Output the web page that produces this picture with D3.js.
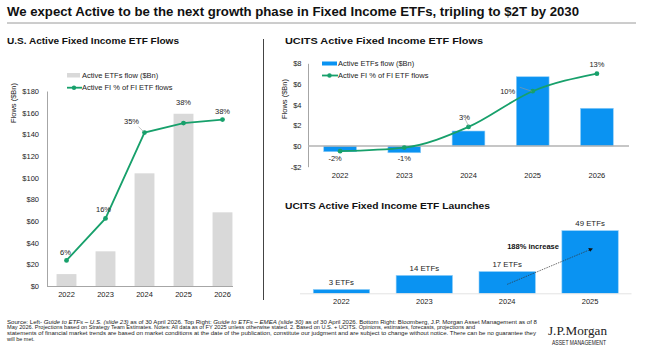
<!DOCTYPE html>
<html><head><meta charset="utf-8">
<script src="https://cdn.jsdelivr.net/npm/d3@7"></script>
<style>
html,body{margin:0;padding:0;background:#fff;}
svg{display:block;font-family:"Liberation Sans",Arial,sans-serif;}
</style></head>
<body><svg id="c" width="646" height="352"></svg>
<script>
// ---------- data ----------
const usYears = ["2022","2023","2024","2025","2026"];
const usFlows = [11, 32, 104, 159, 68];            // $Bn
const usPct = [5.9, 15.6, 35.4, 37.6, 38.4];       // Active FI % of FI ETF flows
const usYTicks = [0,20,40,60,80,100,120,140,160,180];

const ucitsYears = ["2022","2023","2024","2025","2026"];
const ucitsFlows = [-0.55, -0.65, 1.45, 6.7, 3.65]; // $Bn
const ucitsPct = [-2.0, -1.3, 2.7, 9.6, 13.0];
const ucitsYTicks = [-2,0,2,4,6,8];

const launchYears = ["2022","2023","2024","2025"];
const launches = [3, 14, 17, 49];
const launchArrow = [{year:"2024", v:7}, {year:"2025", v:35}];

const GREEN = "#17a06b", BLUE = "#0a93f2", GRAY_BAR = "#d9d9d9", AXIS = "#a6a6a6";

const svg = d3.select("#c");
const fmtD = v => (v<0?"-$":"$") + Math.abs(v);
const fmtP = v => Math.round(v) + "%";

// ---------- header ----------
svg.append("text").attr("x",7).attr("y",16).attr("font-size",12.5).attr("font-weight","bold")
  .attr("fill","#111").attr("textLength",572).attr("lengthAdjust","spacingAndGlyphs")
  .text("We expect Active to be the next growth phase in Fixed Income ETFs, tripling to $2T by 2030");
svg.append("line").attr("x1",7).attr("x2",636).attr("y1",23).attr("y2",23).attr("stroke","#9a9a9a").attr("stroke-width",1);
svg.append("line").attr("x1",263.5).attr("x2",263.5).attr("y1",39).attr("y2",300).attr("stroke","#444").attr("stroke-width",1);

function subtitle(x,y,w,t){
  svg.append("text").attr("x",x).attr("y",y).attr("font-size",9).attr("font-weight","bold").attr("fill","#111")
    .attr("textLength",w).attr("lengthAdjust","spacingAndGlyphs").text(t);
}
subtitle(7,44,172,"U.S. Active Fixed Income ETF Flows");
subtitle(285,44,198,"UCITS Active Fixed Income ETF Flows");
subtitle(285,208.5,205,"UCITS Active Fixed Income ETF Launches");

// ---------- left chart ----------
{
  const x = d3.scaleBand().domain(usYears).range([47,242]).paddingInner(0.49).paddingOuter(0.245);
  const y = d3.scaleLinear().domain([0,180]).range([286,91]);
  const y2 = d3.scaleLinear().domain([0,45]).range([286,91]);
  const g = svg.append("g");
  const ya = g.append("g").attr("transform","translate(47,0)")
    .call(d3.axisLeft(y).tickValues(usYTicks).tickFormat(fmtD).tickSize(0).tickPadding(8));
  ya.select(".domain").attr("stroke",AXIS);
  ya.selectAll("text").attr("font-size",7.5).attr("fill","#222").attr("font-family","Liberation Sans, Arial");
  g.selectAll("rect.b").data(usFlows).join("rect")
    .attr("x",(d,i)=>x(usYears[i])).attr("width",x.bandwidth())
    .attr("y",d=>y(d)).attr("height",d=>y(0)-y(d)).attr("fill",GRAY_BAR);
  const xa = g.append("g").attr("transform","translate(0,286)")
    .call(d3.axisBottom(x).tickSize(0).tickPadding(6));
  xa.select(".domain").remove();
  g.append("line").attr("x1",47).attr("x2",x.range()[1]-9).attr("y1",286.5).attr("y2",286.5).attr("stroke",AXIS);
  xa.selectAll("text").attr("font-size",7.5).attr("fill","#222").attr("font-family","Liberation Sans, Arial");
  const pts = usPct.map((p,i)=>[x(usYears[i])+x.bandwidth()/2, y2(p)]);
  g.append("path").attr("d",d3.line()(pts)).attr("fill","none").attr("stroke",GREEN).attr("stroke-width",1.8);
  g.selectAll("circle.p").data(pts).join("circle").attr("cx",d=>d[0]).attr("cy",d=>d[1]).attr("r",2.4).attr("fill",GREEN);
  const off = [[-1,-8],[-2,-9.5],[-13,-11],[0,-21],[0,-8]];
  g.append("line").attr("x1",pts[2][0]-6).attr("y1",pts[2][1]-6).attr("x2",pts[2][0]-1).attr("y2",pts[2][1]-1).attr("stroke","#999").attr("stroke-width",0.6);
  g.selectAll("text.pl").data(usPct).join("text")
    .attr("x",(d,i)=>pts[i][0]+off[i][0]).attr("y",(d,i)=>pts[i][1]+off[i][1]).attr("dy","0.35em")
    .attr("text-anchor","middle").attr("font-size",7.5).attr("fill","#222").text(fmtP);
  g.append("text").attr("transform","translate(13.5,103) rotate(-90)").attr("text-anchor","middle").attr("dy","0.35em")
    .attr("font-size",7.5).attr("fill","#222").text("Flows ($Bn)");
  g.append("rect").attr("x",67).attr("y",73).attr("width",13).attr("height",4.5).attr("fill",GRAY_BAR);
  g.append("text").attr("x",82).attr("y",75.3).attr("dy","0.35em").attr("font-size",7.5).attr("fill","#222").text("Active ETFs flow ($Bn)");
  g.append("line").attr("x1",67).attr("x2",82).attr("y1",87.7).attr("y2",87.7).attr("stroke",GREEN).attr("stroke-width",1.8);
  g.append("circle").attr("cx",74).attr("cy",87.7).attr("r",2.2).attr("fill",GREEN);
  g.append("text").attr("x",82).attr("y",87.7).attr("dy","0.35em").attr("font-size",7.5).attr("fill","#222").text("Active FI % of FI ETF flows");
}

// ---------- right top chart ----------
{
  const x = d3.scaleBand().domain(ucitsYears).range([308,629]).paddingInner(0.49).paddingOuter(0.245);
  const y = d3.scaleLinear().domain([-2,8]).range([166.7,63.3]);
  const y2 = d3.scaleLinear().domain([-5,15]).range([166.7,63.3]);
  const g = svg.append("g");
  const ya = g.append("g").attr("transform","translate(308,0)")
    .call(d3.axisLeft(y).tickValues(ucitsYTicks).tickFormat(fmtD).tickSize(0).tickPadding(6.5));
  ya.select(".domain").attr("stroke",AXIS);
  ya.selectAll("text").attr("font-size",7.5).attr("fill","#222").attr("font-family","Liberation Sans, Arial");
  g.selectAll("rect.b").data(ucitsFlows).join("rect")
    .attr("x",(d,i)=>x(ucitsYears[i])).attr("width",x.bandwidth())
    .attr("y",d=>y(Math.max(0,d))).attr("height",d=>Math.abs(y(d)-y(0)))
    .attr("fill",BLUE).attr("stroke","#8fcdf7").attr("stroke-width",0.6);
  g.append("line").attr("x1",308).attr("x2",629).attr("y1",y(0)).attr("y2",y(0)).attr("stroke","#b3b3b3").attr("stroke-width",1.6);
  const xa = g.append("g").attr("transform","translate(0,170)")
    .call(d3.axisBottom(x).tickSize(0).tickPadding(3));
  xa.select(".domain").remove();
  xa.selectAll("text").attr("font-size",7.5).attr("fill","#222").attr("font-family","Liberation Sans, Arial");
  const pts = ucitsPct.map((p,i)=>[x(ucitsYears[i])+x.bandwidth()/2, y2(p)]);
  g.append("path").attr("d",d3.line().curve(d3.curveMonotoneX)(pts)).attr("fill","none").attr("stroke",GREEN).attr("stroke-width",1.8);
  g.selectAll("circle.p").data(pts).join("circle").attr("cx",d=>d[0]).attr("cy",d=>d[1]).attr("r",2.4).attr("fill",GREEN);
  const off = [[-5,7.5],[0,10.5],[-4,-10],[-25,0.5],[0,-9]];
  g.append("line").attr("x1",pts[2][0]-3).attr("y1",pts[2][1]-7).attr("x2",pts[2][0]).attr("y2",pts[2][1]-1).attr("stroke","#999").attr("stroke-width",0.6);
  g.append("line").attr("x1",pts[3][0]-13).attr("y1",pts[3][1]-4).attr("x2",pts[3][0]-1).attr("y2",pts[3][1]).attr("stroke","#999").attr("stroke-width",0.6);
  g.selectAll("text.pl").data(ucitsPct).join("text")
    .attr("x",(d,i)=>pts[i][0]+off[i][0]).attr("y",(d,i)=>pts[i][1]+off[i][1]).attr("dy","0.35em")
    .attr("text-anchor","middle").attr("font-size",7.5).attr("fill","#222").text(fmtP);
  g.append("text").attr("transform","translate(284,99) rotate(-90)").attr("text-anchor","middle").attr("dy","0.35em")
    .attr("font-size",7.5).attr("fill","#222").text("Flows ($Bn)");
  g.append("rect").attr("x",322).attr("y",61.5).attr("width",15).attr("height",4).attr("fill",BLUE);
  g.append("text").attr("x",338).attr("y",63.3).attr("dy","0.35em").attr("font-size",7.5).attr("fill","#222").text("Active ETFs flow ($Bn)");
  g.append("line").attr("x1",322).attr("x2",338).attr("y1",75.5).attr("y2",75.5).attr("stroke",GREEN).attr("stroke-width",1.8);
  g.append("circle").attr("cx",329.5).attr("cy",75.5).attr("r",2.2).attr("fill",GREEN);
  g.append("text").attr("x",338).attr("y",75.5).attr("dy","0.35em").attr("font-size",7.5).attr("fill","#222").text("Active FI % of FI ETF flows");
}

// ---------- bottom right chart ----------
{
  const x = d3.scaleBand().domain(launchYears).range([300,631.5]).paddingInner(0.32).paddingOuter(0.16);
  const y = d3.scaleLinear().domain([0,50]).range([293.3,229.4]);
  const g = svg.append("g");
  g.selectAll("rect.b").data(launches).join("rect")
    .attr("x",(d,i)=>x(launchYears[i])).attr("width",x.bandwidth())
    .attr("y",d=>y(d)).attr("height",d=>y(0)-y(d)).attr("fill",BLUE).attr("stroke","#8fcdf7").attr("stroke-width",0.6);
  g.append("line").attr("x1",300).attr("x2",631.5).attr("y1",293.8).attr("y2",293.8).attr("stroke","#e3e3e3").attr("stroke-width",1);
  const xa = g.append("g").attr("transform","translate(0,296)")
    .call(d3.axisBottom(x).tickSize(0).tickPadding(3));
  xa.select(".domain").remove();
  xa.selectAll("text").attr("font-size",7.5).attr("fill","#222").attr("font-family","Liberation Sans, Arial");
  g.selectAll("text.v").data(launches).join("text")
    .attr("x",(d,i)=>x(launchYears[i])+x.bandwidth()/2).attr("y",d=>y(d)-7).attr("dy","0.35em")
    .attr("text-anchor","middle").attr("font-size",7.8).attr("fill","#222").text(d=>d+" ETFs");
  const defs = svg.append("defs");
  defs.append("marker").attr("id","ah").attr("viewBox","0 0 10 10").attr("refX",9).attr("refY",5)
    .attr("markerWidth",6).attr("markerHeight",6).attr("orient","auto")
    .append("path").attr("d","M0,0L10,5L0,10z").attr("fill","#111");
  const a0 = launchArrow[0], a1 = launchArrow[1];
  g.append("line").attr("x1",x(a0.year)+x.bandwidth()/2).attr("y1",y(a0.v))
    .attr("x2",x(a1.year)+x.bandwidth()/2+2.5).attr("y2",y(a1.v))
    .attr("stroke","#333").attr("stroke-width",0.7).attr("stroke-dasharray","1.5,1").attr("marker-end","url(#ah)");
  g.append("text").attr("x",x("2024")+x.bandwidth()/2).attr("y",y(36.5)).attr("dy","0.35em")
    .attr("font-size",7.5).attr("font-weight","bold").attr("fill","#111").text("188% increase");
}

// ---------- footnote ----------
{
  const lines = [
    [["Source: Left- ",false],["Guide to ETFs – U.S. (slide 23)",true],[" as of 30 April 2026. Top Right: ",false],["Guide to ETFs – EMEA (slide 30)",true],[" as of 30 April 2026. Bottom Right: Bloomberg, J.P. Morgan Asset Management as of 8",false]],
    [["May 2026. Projections based on Strategy Team Estimates. Notes: All data as of FY 2025 unless otherwise stated. 2. Based on U.S. + UCITS. Opinions, estimates, forecasts, projections and",false]],
    [["statements of financial market trends are based on market conditions at the date of the publication, constitute our judgment and are subject to change without notice. There can be no guarantee they",false]],
    [["will be met.",false]]
  ];
  const widths = [530, 468, 529, null];
  lines.forEach((ln,i)=>{
    const t = svg.append("text").attr("x",7).attr("y",323.5+i*5.7).attr("font-size",5.5).attr("fill","#222");
    if (widths[i]) t.attr("textLength",widths[i]).attr("lengthAdjust","spacingAndGlyphs");
    ln.forEach(([s,it])=>t.append("tspan").attr("font-style",it?"italic":"normal").text(s));
  });
  svg.append("text").attr("x",548).attr("y",334.5).attr("font-family","Liberation Serif, Times New Roman, serif")
    .attr("font-size",13).attr("fill","#222").attr("textLength",59).attr("lengthAdjust","spacingAndGlyphs").text("J.P.Morgan");
  svg.append("text").attr("x",552).attr("y",344.8).attr("font-size",6.3).attr("fill","#222")
    .attr("textLength",54).attr("lengthAdjust","spacingAndGlyphs").text("ASSET MANAGEMENT");
}
</script></body></html>
